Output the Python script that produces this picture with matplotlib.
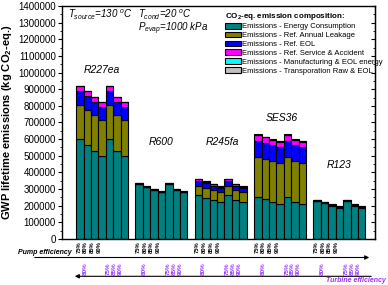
import numpy as np
import matplotlib
matplotlib.use("Agg")
import matplotlib.pyplot as plt
from matplotlib.ticker import MultipleLocator
from matplotlib.transforms import blended_transform_factory

plt.rcParams['font.family'] = ['Liberation Sans', 'DejaVu Sans']
plt.rcParams['mathtext.fontset'] = 'custom'
plt.rcParams['mathtext.rm'] = 'Liberation Sans'
plt.rcParams['mathtext.it'] = 'Liberation Sans:italic'
plt.rcParams['mathtext.bf'] = 'Liberation Sans:bold'

# --- DATA (kg CO2-eq.) ---
refrigerants = ['R227ea', 'R600', 'R245fa', 'SES36', 'R123']
pump_labels = ['75%', '80%', '85%', '90%']
turbine_labels = ['80%', '75%', '85%', '90%']

energy = [
    [599000, 565000, 529000, 500000, 599000, 529000, 500000],
    [330000, 310000, 294000, 280000, 330000, 294000, 280000],
    [263000, 246000, 232000, 220000, 263000, 232000, 220000],
    [250000, 238000, 224000, 210000, 250000, 224000, 210000],
    [226000, 214000, 201000, 189000, 226000, 201000, 189000],
]
leakage = [
    [206000, 210000, 215000, 218000, 206000, 215000, 218000],
    [1000, 1000, 1000, 1000, 1000, 1000, 1000],
    [57000, 62000, 62000, 61000, 57000, 62000, 61000],
    [245000, 243000, 243000, 245000, 245000, 243000, 245000],
    [2000, 2000, 2000, 2000, 2000, 2000, 2000],
]
ref_eol = [
    [86000, 84000, 78000, 76000, 86000, 78000, 76000],
    [2000, 2000, 2000, 2000, 2000, 2000, 2000],
    [31000, 28000, 27000, 26000, 31000, 27000, 26000],
    [94000, 98000, 96000, 100000, 94000, 96000, 100000],
    [2000, 2000, 2000, 2000, 2000, 2000, 2000],
]
service = [
    [28000, 29000, 29000, 28000, 28000, 29000, 28000],
    [2000, 2000, 2000, 2000, 2000, 2000, 2000],
    [8000, 8000, 8000, 8000, 8000, 8000, 8000],
    [36000, 32000, 32000, 30000, 36000, 32000, 30000],
    [2000, 2000, 2000, 2000, 2000, 2000, 2000],
]
manufacturing = [
    [2000] * 7, [2000] * 7, [2000] * 7, [2000] * 7, [2000] * 7,
]
transport = [
    [1000] * 7, [1000] * 7, [1000] * 7, [1000] * 7, [1000] * 7,
]

components = [energy, leakage, ref_eol, service, manufacturing, transport]
comp_names = ['Emissions - Energy Consumption', 'Emissions - Ref. Annual Leakage',
              'Emissions - Ref. EOL', 'Emissions - Ref. Service & Accident',
              'Emissions - Manufacturing & EOL energy',
              'Emissions - Transporation Raw & EOL']
comp_colors = ['#008080', '#808000', '#0000ff', '#ff00ff', '#00ffff', '#c0c0c0']

# --- FIGURE ---
fig = plt.figure(figsize=(3.88, 2.85), dpi=100)
ax = fig.add_axes([62 / 388, 46 / 285, 313 / 388, 233 / 285])

handles = []
for g, name in enumerate(refrigerants):
    x = g * 8 + np.arange(7)
    bottom = np.zeros(7)
    for c, comp in enumerate(components):
        vals = np.array(comp[g], dtype=float)
        b = ax.bar(x, vals, width=1.0, bottom=bottom, color=comp_colors[c],
                   edgecolor='black', linewidth=0.8)
        if g == 0:
            handles.append(b)
        bottom += vals

ax.set_xlim(-2.4, 39.8)
ax.set_ylim(0, 1400000)
ax.yaxis.set_major_locator(MultipleLocator(100000))
ax.yaxis.set_minor_locator(MultipleLocator(50000))
ax.ticklabel_format(axis='y', style='plain', useOffset=False)
ax.set_xticks([])
ax.tick_params(axis='y', which='major', direction='out', length=3, width=0.8,
               labelsize=7, pad=1.5)
ax.tick_params(axis='y', which='minor', direction='out', length=1.5, width=0.6)
for sp in ax.spines.values():
    sp.set_linewidth(1.0)

# right-side ticks inward
axr = ax.secondary_yaxis('right')
axr.yaxis.set_major_locator(MultipleLocator(100000))
axr.yaxis.set_minor_locator(MultipleLocator(50000))
axr.tick_params(which='major', direction='in', length=3, labelright=False)
axr.tick_params(which='minor', direction='in', length=1.5)

ax.set_ylabel('GWP lifetime emissions (kg CO$_\\mathbf{2}$-eq.)', fontsize=8,
              fontweight='bold', labelpad=3)

# --- conditions ---
ax.text(-1.6, 1345000, r'$T_{source}$=130 $^o$C', fontsize=7, style='italic', va='center')
ax.text(7.8, 1345000, r'$T_{cond}$=20 $^o$C', fontsize=7, style='italic', va='center')
ax.text(7.8, 1262000, r'$P_{evap}$=1000 kPa', fontsize=7, style='italic', va='center')

# --- group labels ---
label_pos = [(3.0, 1015000), (11.0, 585000), (19.2, 585000), (27.2, 725000), (35.0, 445000)]
for name, (lx, ly) in zip(refrigerants, label_pos):
    ax.text(lx, ly, name, fontsize=7.5, style='italic', ha='center', va='center')

# --- legend ---
leg = ax.legend(handles=handles, labels=comp_names, loc='upper left',
                bbox_to_anchor=(0.505, 1.0),
                frameon=False, fontsize=5.5, handlelength=2.1, handleheight=0.75,
                handletextpad=0.2, labelspacing=0.18, borderpad=0.1,
                title='CO$_\\mathbf{2}$-eq. emission composition:',
                title_fontproperties={'size': 5.8, 'weight': 'bold'})
leg._legend_box.align = 'left'

# --- efficiency labels ---
trans = blended_transform_factory(ax.transData, ax.transAxes)
purple = '#9933ff'
for g in range(5):
    left = g * 8 - 0.5
    for k, lab in enumerate(pump_labels):
        ax.text(left + 0.4 + 0.9 * k, -0.009, lab, transform=trans, rotation=90,
                ha='center', va='top', fontsize=4.2, fontweight='bold', clip_on=False)
    for xoff, lab in zip([1.2, 4.4, 5.2, 6.0], turbine_labels):
        ax.text(left + xoff, -0.099, lab, transform=trans, rotation=90,
                ha='center', va='top', fontsize=4.5, fontweight='bold',
                color=purple, clip_on=False)

fig.text(18 / 388, 1 - 252 / 285, 'Pump efficiency', fontsize=5, style='italic',
         fontweight='bold', va='center')
fig.text(386 / 388, 1 - 281 / 285, 'Turbine efficiency', fontsize=5, style='italic',
         fontweight='bold', color=purple, va='center', ha='right')

ax.annotate('', xy=(372 / 388, 1 - 257.5 / 285), xytext=(32 / 388, 1 - 257.5 / 285),
            xycoords='figure fraction', textcoords='figure fraction',
            arrowprops=dict(arrowstyle='-|>', color='black', lw=0.8, mutation_scale=6))
ax.annotate('', xy=(72 / 388, 1 - 276.3 / 285), xytext=(374 / 388, 1 - 276.3 / 285),
            xycoords='figure fraction', textcoords='figure fraction',
            arrowprops=dict(arrowstyle='-|>', color='black', lw=0.8, mutation_scale=6))

fig.savefig('out.png', dpi=100)
